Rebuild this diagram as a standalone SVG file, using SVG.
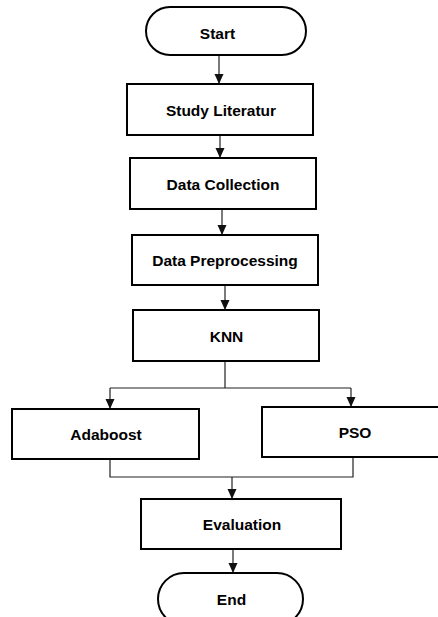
<svg xmlns="http://www.w3.org/2000/svg" width="438" height="617" viewBox="0 0 438 617">
<defs>
<style>
.box{fill:#fff;stroke:#000;stroke-width:2}
.lbl{font-family:"Liberation Sans",Arial,sans-serif;font-weight:bold;font-size:15.5px;fill:#000;text-anchor:middle}
.con{fill:none;stroke:#222;stroke-width:1.2}
</style>
<marker id="ah" markerUnits="userSpaceOnUse" markerWidth="10" markerHeight="10" viewBox="0 0 10 10" refX="10" refY="5" orient="auto">
<path d="M0,0.5 L10,5 L0,9.5 Z" fill="#111"/>
</marker>
</defs>
<rect width="438" height="617" fill="#fff"/>
<g id="connectors">
<path class="con" d="M219,55 V84" marker-end="url(#ah)"/>
<path class="con" d="M220,135 V158" marker-end="url(#ah)"/>
<path class="con" d="M222,209 V235" marker-end="url(#ah)"/>
<path class="con" d="M225,285 V310" marker-end="url(#ah)"/>
<path class="con" d="M225,361 V388 M110,388 H351"/>
<path class="con" d="M110,388 V409" marker-end="url(#ah)"/>
<path class="con" d="M351,388 V407" marker-end="url(#ah)"/>
<path class="con" d="M110,459 V477 H353 V457"/>
<path class="con" d="M232,477 V499" marker-end="url(#ah)"/>
<path class="con" d="M233,549 V573" marker-end="url(#ah)"/>
</g>
<g id="start">
<rect class="box" x="146" y="7" width="160" height="48" rx="24" ry="24"/>
<text class="lbl" x="217.5" y="39">Start</text>
</g>
<g id="study">
<rect class="box" x="127" y="84" width="186" height="51"/>
<text class="lbl" x="221" y="116">Study Literatur</text>
</g>
<g id="collection">
<rect class="box" x="130" y="158" width="186" height="51"/>
<text class="lbl" x="223" y="190">Data Collection</text>
</g>
<g id="preprocessing">
<rect class="box" x="132" y="235" width="186" height="50"/>
<text class="lbl" x="225" y="266">Data Preprocessing</text>
</g>
<g id="knn">
<rect class="box" x="133" y="310" width="186" height="51"/>
<text class="lbl" x="226.5" y="342">KNN</text>
</g>
<g id="adaboost">
<rect class="box" x="12" y="409" width="187" height="50"/>
<text class="lbl" x="106" y="440">Adaboost</text>
</g>
<g id="pso">
<rect class="box" x="262" y="407" width="186" height="50"/>
<text class="lbl" x="355" y="438">PSO</text>
</g>
<g id="evaluation">
<rect class="box" x="141" y="499" width="200" height="50"/>
<text class="lbl" x="242" y="530">Evaluation</text>
</g>
<g id="end">
<rect class="box" x="158" y="573" width="145" height="52" rx="26" ry="26"/>
<text class="lbl" x="231.5" y="605">End</text>
</g>
</svg>
